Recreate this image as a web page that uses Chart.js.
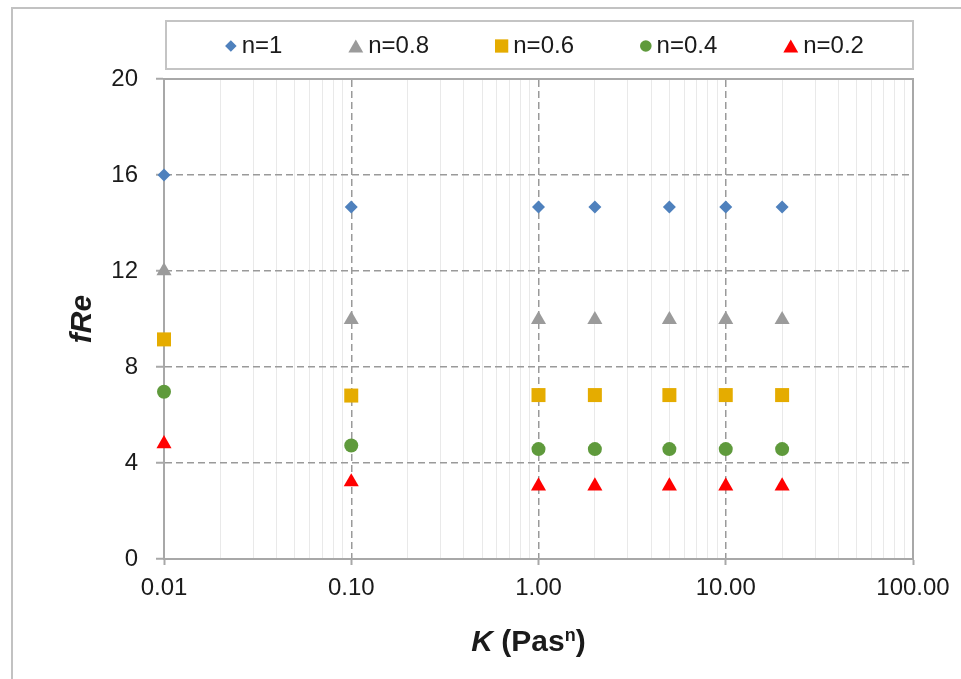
<!DOCTYPE html>
<html>
<head>
<meta charset="utf-8">
<title>fRe vs K</title>
<script src="https://cdn.jsdelivr.net/npm/chart.js@4/dist/chart.umd.min.js"></script>
<style>
  html, body { margin: 0; padding: 0; background: #fff; overflow: hidden; }
  #frame { position: absolute; left: 11px; top: 7px; width: 2000px; height: 2000px;
           border-left: 2px solid #c2c2c2; border-top: 2px solid #c2c2c2; }
  #wrap { position: absolute; left: 0; top: 0; width: 961px; height: 679px; }
</style>
</head>
<body>
<div id="frame"></div>
<div id="wrap"><canvas id="fReChart" width="961" height="679"></canvas></div>
<script>
// K values (Pa s^n) and fRe for each flow index n
const kValues = [0.01, 0.1, 1, 2, 5, 10, 20];
const fRe_n1  = [16.0, 14.67, 14.67, 14.67, 14.67, 14.67, 14.67];
const fRe_n08 = [12.0, 9.97, 9.97, 9.97, 9.97, 9.97, 9.97];
const fRe_n06 = [9.15, 6.81, 6.83, 6.83, 6.83, 6.83, 6.83];
const fRe_n04 = [6.97, 4.73, 4.58, 4.58, 4.58, 4.58, 4.58];
const fRe_n02 = [4.80, 3.21, 3.04, 3.04, 3.04, 3.04, 3.04];

const seriesNames = ['n=1', 'n=0.8', 'n=0.6', 'n=0.4', 'n=0.2'];

// axis ticks
const xMajorTicks = [0.01, 0.1, 1, 10, 100];
const xTickLabels = ['0.01', '0.10', '1.00', '10.00', '100.00'];
const xMinorSteps = [2, 3, 4, 5, 6, 7, 8, 9];
const yTicks = [0, 4, 8, 12, 16, 20];

const FONT = '"Liberation Sans", Arial, sans-serif';
const TEXT = '#1b1b1b';
const AXIS = '#a8a8a8';
const DASHED = '#9a9a9a';
const MINOR = '#e9e9e9';

function majorIndex(v) {
    return xMajorTicks.findIndex(m => Math.abs(v - m) / m < 1e-6);
}

let allXTicks = [];
xMajorTicks.forEach((m, i) => {
    allXTicks.push(m);
    if (i < xMajorTicks.length - 1) {
        xMinorSteps.forEach(s => allXTicks.push(m * s));
    }
});

function points(ys) {
    return kValues.map((k, i) => ({ x: k, y: ys[i] }));
}

const seriesStyles = [
    { data: fRe_n1,  color: '#4f81bd', style: 'rectRot',  radius: 6.5, legendRadius: 5.8 },
    { data: fRe_n08, color: '#9b9b9b', style: 'triangle', radius: 8.7, legendRadius: 8.6 },
    { data: fRe_n06, color: '#e5ac00', style: 'rect',     radius: 9.9, legendRadius: 9.4 },
    { data: fRe_n04, color: '#5f9a3c', style: 'circle',   radius: 7,   legendRadius: 5.8 },
    { data: fRe_n02, color: '#ff0000', style: 'triangle', radius: 8.7, legendRadius: 8.6 }
];

const datasets = seriesStyles.map((s, i) => ({
    label: seriesNames[i],
    data: points(s.data),
    pointStyle: s.style,
    pointRadius: s.radius,
    pointHoverRadius: s.radius,
    backgroundColor: s.color,
    borderColor: s.color,
    borderWidth: 0,
    showLine: false,
    clip: false,
    legendRadius: s.legendRadius,
    xAxisID: 'x',
    yAxisID: 'y'
}));

// boxed legend drawn in Excel style, spread evenly
const boxLegend = {
    id: 'boxLegend',
    afterDraw(chart) {
        const { ctx, chartArea } = chart;
        const top = 21, bottom = chartArea.top - 10;
        const left = chartArea.left + 2, right = chartArea.right;
        ctx.save();
        ctx.strokeStyle = '#c4c4c4';
        ctx.lineWidth = 2;
        ctx.strokeRect(left, top, right - left, bottom - top);

        ctx.font = '24px ' + FONT;
        ctx.textBaseline = 'middle';
        ctx.fillStyle = TEXT;
        const gapMarker = 5, gapItem = 66;
        const items = chart.data.datasets.map(ds => {
            const r = ds.legendRadius;
            const mw = ds.pointStyle === 'triangle' ? r * Math.sqrt(3) :
                       ds.pointStyle === 'rect' ? r * Math.SQRT2 : 2 * r;
            return { ds, mw, tw: ctx.measureText(ds.label).width };
        });
        let total = items.reduce((a, it) => a + it.mw + gapMarker + it.tw, 0) + gapItem * (items.length - 1);
        let x = (left + right) / 2 - total / 2 + 5;
        const cy = (top + bottom) / 2 + 1;
        items.forEach(it => {
            const ds = it.ds;
            const yOff = ds.pointStyle === 'triangle' ? ds.legendRadius / 4 : 0;
            ctx.fillStyle = ds.backgroundColor;
            Chart.helpers.drawPoint(ctx, {
                pointStyle: ds.pointStyle, radius: ds.legendRadius, borderWidth: 0, rotation: 0
            }, x + it.mw / 2, cy + yOff);
            ctx.fillStyle = TEXT;
            ctx.fillText(ds.label, x + it.mw + gapMarker, cy);
            x += it.mw + gapMarker + it.tw + gapItem;
        });
        ctx.restore();
    }
};

// axis titles with mixed styles
const axisTitles = {
    id: 'axisTitles',
    afterDraw(chart) {
        const { ctx, chartArea } = chart;
        ctx.save();
        ctx.fillStyle = TEXT;
        ctx.textBaseline = 'alphabetic';

        // y title
        ctx.translate(91, (chartArea.top + chartArea.bottom) / 2);
        ctx.rotate(-Math.PI / 2);
        ctx.font = 'italic bold 30px ' + FONT;
        ctx.textAlign = 'center';
        ctx.fillText('fRe', 0, 0);
        ctx.setTransform(1, 0, 0, 1, 0, 0);

        // x title: K (Pas^n)
        const parts = [
            { t: 'K', f: 'italic bold 30px ' + FONT, dy: 0 },
            { t: ' (Pas', f: 'bold 30px ' + FONT, dy: 0 },
            { t: 'n', f: 'bold 18px ' + FONT, dy: -10 },
            { t: ')', f: 'bold 30px ' + FONT, dy: 0 }
        ];
        ctx.textAlign = 'left';
        let w = 0;
        parts.forEach(p => { ctx.font = p.f; p.w = ctx.measureText(p.t).width; w += p.w; });
        let x = (chartArea.left + chartArea.right) / 2 - 10 - w / 2;
        const base = 651;
        parts.forEach(p => {
            ctx.font = p.f;
            ctx.fillText(p.t, x, base + p.dy);
            x += p.w;
        });
        ctx.restore();
    }
};

const ctx = document.getElementById('fReChart').getContext('2d');
const fReChart = new Chart(ctx, {
    type: 'scatter',
    data: { datasets: datasets },
    plugins: [boxLegend, axisTitles],
    options: {
        responsive: false,
        animation: false,
        events: [],
        layout: { padding: { top: 79, left: 0, right: 48, bottom: 0 } },
        plugins: {
            legend: { display: false },
            tooltip: { enabled: false }
        },
        scales: {
            x: {
                type: 'logarithmic',
                position: 'bottom',
                min: 0.01,
                max: 100,
                afterBuildTicks: scale => { scale.ticks = allXTicks.map(v => ({ value: v })); },
                afterFit: scale => { scale.height = 120; },
                ticks: {
                    autoSkip: false,
                    maxRotation: 0,
                    padding: 9,
                    color: TEXT,
                    font: { family: FONT, size: 24 },
                    callback: value => {
                        const i = majorIndex(value);
                        return i >= 0 ? xTickLabels[i] : '';
                    }
                },
                grid: {
                    color: c => (c.tick && majorIndex(c.tick.value) >= 0) ? 'rgba(0,0,0,0)' : MINOR,
                    lineWidth: 1,
                    tickLength: 6,
                    tickWidth: 2,
                    tickColor: c => (c.tick && majorIndex(c.tick.value) >= 0) ? AXIS : 'rgba(0,0,0,0)'
                },
                border: { display: true, color: AXIS, width: 2 }
            },
            xTop: {
                type: 'logarithmic',
                position: 'top',
                min: 0.01,
                max: 100,
                afterBuildTicks: scale => { scale.ticks = xMajorTicks.map(v => ({ value: v })); },
                afterFit: scale => { scale.height = 0; },
                ticks: { display: false },
                grid: {
                    drawTicks: false,
                    lineWidth: 1.5,
                    color: c => (c.tick && (c.tick.value === 0.01 || c.tick.value === 100)) ? 'rgba(0,0,0,0)' : DASHED
                },
                border: { display: true, color: AXIS, width: 2, dash: [7, 4] }
            },
            y: {
                type: 'linear',
                position: 'left',
                min: 0,
                max: 20,
                afterBuildTicks: scale => { scale.ticks = yTicks.map(v => ({ value: v })); },
                afterFit: scale => { scale.width = 164; },
                ticks: {
                    padding: 18,
                    color: TEXT,
                    font: { family: FONT, size: 24 }
                },
                grid: {
                    lineWidth: 1.5,
                    color: c => (c.tick && (c.tick.value === 0 || c.tick.value === 20)) ? 'rgba(0,0,0,0)' : DASHED,
                    tickLength: 8,
                    tickWidth: 2,
                    tickColor: AXIS
                },
                border: { display: true, color: AXIS, width: 2, dash: [7, 4] }
            },
            yRight: {
                type: 'linear',
                position: 'right',
                min: 0,
                max: 20,
                afterFit: scale => { scale.width = 0; },
                ticks: { display: false },
                grid: { drawTicks: false, color: 'rgba(0,0,0,0)' },
                border: { display: true, color: AXIS, width: 2 }
            }
        }
    }
});
</script>
</body>
</html>
